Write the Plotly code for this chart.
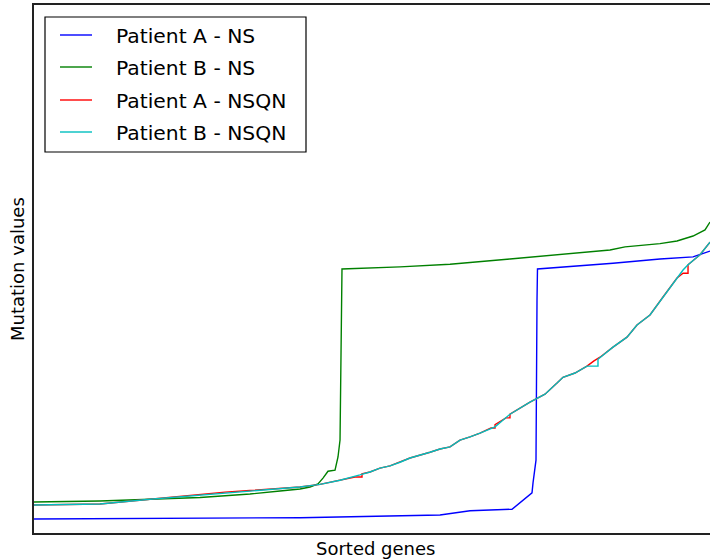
import plotly.graph_objects as go

# Gene rank (sorted) and mutation values for each normalisation
rank_a_ns = [0, 2456, 3935, 6006, 6228, 6450, 7071, 7189, 7367, 7382, 7426, 7441,
             7448, 8565, 9260, 9749, 9852, 10000]
val_a_ns = [0.0265, 0.0284, 0.029, 0.034, 0.038, 0.042, 0.045, 0.057, 0.076, 0.095,
            0.138, 0.441, 0.500, 0.511, 0.519, 0.523, 0.527, 0.534]

rank_b_ns = [0, 976, 2456, 3195, 3639, 3935, 4083, 4201, 4275, 4349, 4453, 4497, 4527,
             4541, 4556, 5414, 6154, 7041, 7781, 8521, 8743, 9260, 9512, 9749, 9926, 10000]
val_b_ns = [0.0587, 0.0606, 0.0672, 0.0739, 0.0795, 0.0833, 0.0871, 0.0928, 0.104, 0.117,
            0.119, 0.144, 0.176, 0.303, 0.500, 0.504, 0.509, 0.519, 0.527, 0.536, 0.542,
            0.548, 0.553, 0.5625, 0.574, 0.589]

rank_a_nsqn = [0, 976, 1716, 2456, 2826, 3195, 3935, 4231, 4527, 4748, 4852, 4852,
               4970, 5118, 5266, 5414, 5562, 5858, 6006, 6154, 6302, 6450, 6598, 6760,
               6820, 6820, 6982, 7041, 7041, 7337, 7559, 7737, 7825, 8003, 8180, 8284,
               8373, 8565, 8772, 8920, 9112, 9305, 9512, 9601, 9675, 9675, 9852, 10000]
val_a_nsqn = [0.053, 0.055, 0.064, 0.073, 0.0775, 0.0805, 0.087, 0.092, 0.100, 0.106,
              0.106, 0.112, 0.1155, 0.123, 0.127, 0.134, 0.142, 0.153, 0.159, 0.163,
              0.176, 0.182, 0.189, 0.199, 0.199, 0.205, 0.218, 0.218, 0.225, 0.248,
              0.263, 0.284, 0.295, 0.303, 0.316, 0.326, 0.333, 0.352, 0.371, 0.394,
              0.413, 0.447, 0.483, 0.492, 0.492, 0.508, 0.527, 0.551]

rank_b_nsqn = [0, 976, 1716, 2456, 3195, 3935, 4231, 4527, 4822, 4970, 5118, 5266,
               5414, 5562, 5858, 6006, 6154, 6302, 6450, 6598, 6820, 7041, 7337, 7559,
               7737, 7825, 8003, 8180, 8240, 8343, 8343, 8565, 8772, 8920, 9112, 9305,
               9512, 9601, 9675, 9852, 10000]
val_b_nsqn = [0.053, 0.055, 0.064, 0.072, 0.0795, 0.087, 0.092, 0.100, 0.110, 0.1155,
              0.123, 0.127, 0.134, 0.142, 0.153, 0.159, 0.163, 0.176, 0.182, 0.189,
              0.201, 0.225, 0.248, 0.263, 0.284, 0.295, 0.303, 0.316, 0.316, 0.316,
              0.329, 0.352, 0.371, 0.394, 0.413, 0.447, 0.483, 0.498, 0.508, 0.527,
              0.551]

series = [
    ("Patient A - NS", rank_a_ns, val_a_ns, "#0000ff"),
    ("Patient B - NS", rank_b_ns, val_b_ns, "#008000"),
    ("Patient A - NSQN", rank_a_nsqn, val_a_nsqn, "#ff0000"),
    ("Patient B - NSQN", rank_b_nsqn, val_b_nsqn, "#00bfbf"),
]

FONT = "DejaVu Sans"
W, H = 710, 559
ML, MR, MT, MB = 34, 0, 5, 26
PW, PH = W - ML - MR, H - MT - MB


def px_x(p):
    return (p - ML) / PW


def px_y(p):
    return (H - MB - p) / PH


fig = go.Figure()
for name, xs, ys, col in series:
    fig.add_trace(go.Scatter(x=xs, y=ys, mode="lines", name=name,
                             line=dict(color=col, width=1.4), showlegend=False))

# Legend box drawn by hand (matplotlib style)
shapes = [dict(type="rect", xref="paper", yref="paper",
               x0=px_x(45), x1=px_x(306), y0=px_y(152), y1=px_y(17),
               line=dict(color="black", width=1.2), fillcolor="white", layer="above")]
annotations = []
row_y = [35, 67, 100, 132]
for (name, _, _, col), ry in zip(series, row_y):
    shapes.append(dict(type="line", xref="paper", yref="paper",
                       x0=px_x(60), x1=px_x(92), y0=px_y(ry), y1=px_y(ry),
                       line=dict(color=col, width=1.4), layer="above"))
    annotations.append(dict(text=name, xref="paper", yref="paper",
                            x=px_x(114), y=px_y(ry + 1), xanchor="left", yanchor="middle",
                            showarrow=False, font=dict(family=FONT, size=20.3, color="black")))

annotations.append(dict(text="Sorted genes", xref="paper", yref="paper",
                        x=px_x(375), y=px_y(548), xanchor="center", yanchor="middle",
                        showarrow=False, font=dict(family=FONT, size=18, color="black")))
annotations.append(dict(text="Mutation values", xref="paper", yref="paper",
                        x=px_x(17), y=px_y(269), xanchor="center", yanchor="middle",
                        textangle=-90, showarrow=False,
                        font=dict(family=FONT, size=18, color="black")))

fig.update_layout(
    width=W, height=H,
    margin=dict(l=ML, r=MR, t=MT, b=MB),
    paper_bgcolor="white", plot_bgcolor="white",
    font=dict(family=FONT, color="black"),
    shapes=shapes, annotations=annotations,
    xaxis=dict(range=[0, 10000], showgrid=False, zeroline=False, showticklabels=False,
               ticks="", showline=True, mirror=True, linecolor="#222", linewidth=1.5),
    yaxis=dict(range=[0, 1], showgrid=False, zeroline=False, showticklabels=False,
               ticks="", showline=True, linecolor="#222", linewidth=1.5),
)

fig.write_html("out.html")
